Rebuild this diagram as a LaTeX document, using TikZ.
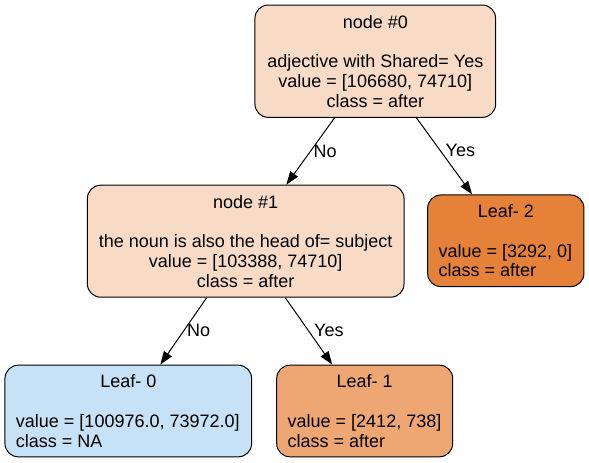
\documentclass[tikz,border=0pt]{standalone}
\usepackage{fontspec}
\setmainfont{Liberation Sans}
\usetikzlibrary{arrows.meta}
\definecolor{cnode}{HTML}{F8DBC6}
\definecolor{cleafa}{HTML}{C7E2F6}
\definecolor{cleafb}{HTML}{EEA773}
\definecolor{cleafc}{HTML}{E58139}
\tikzset{
  treebox/.style={draw=black, line width=0.75pt, rounded corners=10pt, inner xsep=8.25pt, inner ysep=0pt,
    font=\fontsize{13.5pt}{14.8pt}\selectfont},
  innerbox/.style={treebox, align=center},
  leafbox/.style={treebox, align=left},
  edge/.style={draw=black, line width=0.75pt, -{Triangle[length=10pt,width=7pt]}},
  elabel/.style={font=\fontsize{13.5pt}{14.8pt}\selectfont, inner sep=0pt, anchor=west}
}
\begin{document}
\begin{tikzpicture}[x=0.75pt,y=-0.75pt]
\useasboundingbox (0,0) rectangle (589,463);
\node[innerbox, fill=cnode, minimum width=180.5pt, minimum height=84.25pt] (n0) at (375.3,61.2)
  {node \#0\\[14.8pt]adjective with Shared= Yes\\value = [106680, 74710]\\class = after};
\node[innerbox, fill=cnode, minimum width=237.5pt, minimum height=84pt] (n1) at (245.7,241.2)
  {node \#1\\[14.8pt]the noun is also the head of= subject\\value = [103388, 74710]\\class = after};
\node[leafbox, fill=cleafc, minimum height=68.75pt] (l2) at (505.8,240.8)
  {\makebox[100.75pt][c]{Leaf- 2}\\[14.8pt]value = [3292, 0]\\class = after};
\node[leafbox, fill=cleafa, minimum height=68.75pt] (l0) at (128.3,411)
  {\makebox[168.5pt][c]{Leaf- 0}\\[14.8pt]value = [100976.0, 73972.0]\\class = NA};
\node[leafbox, fill=cleafb, minimum height=68.75pt] (l1) at (364.7,411)
  {\makebox[115.5pt][c]{Leaf- 1}\\[14.8pt]value = [2412, 738]\\class = after};
\draw[edge] (n0) -- node[elabel, pos=0.5, xshift=2pt] (e0) {No} (n1);
\draw[edge] (n0) -- node[elabel, pos=0.42, xshift=4pt] (e1) {Yes} (l2);
\draw[edge] (n1) -- node[elabel, pos=0.49, xshift=2pt] (e2) {No} (l0);
\draw[edge] (n1) -- node[elabel, pos=0.49, xshift=4pt] (e3) {Yes} (l1);
\end{tikzpicture}
\end{document}
